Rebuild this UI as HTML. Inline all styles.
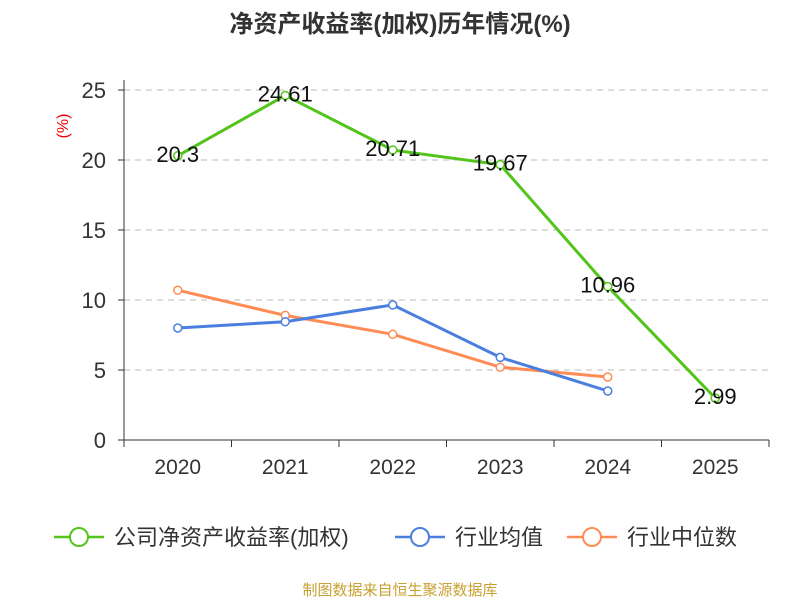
<!DOCTYPE html>
<html><head><meta charset="utf-8"><style>
body{margin:0;background:#fff;}
svg text{font-family:"Liberation Sans","Noto Sans CJK SC",sans-serif;}
</style></head><body>
<svg id="chart" width="800" height="600" xmlns="http://www.w3.org/2000/svg">
<text x="400" y="32" text-anchor="middle" font-size="24" font-weight="bold" fill="#333">净资产收益率(加权)历年情况(%)</text>
<text x="68" y="126" text-anchor="middle" font-size="16" fill="#e00" transform="rotate(-90 68 126)">(%)</text>
<g id="grid"></g><g id="axes"></g><g id="series"></g>
<g>
<g><line x1="54" y1="537" x2="104" y2="537" stroke="#52c41a" stroke-width="2.5"/><circle cx="79" cy="537" r="9" fill="#fff" stroke="#52c41a" stroke-width="2"/><text x="114" y="545" font-size="22" fill="#333">公司净资产收益率(加权)</text></g>
<g><line x1="395" y1="537" x2="445" y2="537" stroke="#4a7fe0" stroke-width="2.5"/><circle cx="420" cy="537" r="9" fill="#fff" stroke="#4a7fe0" stroke-width="2"/><text x="455" y="545" font-size="22" fill="#333">行业均值</text></g>
<g><line x1="567" y1="537" x2="617" y2="537" stroke="#ff8c55" stroke-width="2.5"/><circle cx="592" cy="537" r="9" fill="#fff" stroke="#ff8c55" stroke-width="2"/><text x="627" y="545" font-size="22" fill="#333">行业中位数</text></g>
</g>
<text x="400" y="595" text-anchor="middle" font-size="15" fill="#c8a032">制图数据来自恒生聚源数据库</text>
</svg>
<script>
const categories=["2020","2021","2022","2023","2024","2025"];
const companyValues=[20.3,24.61,20.71,19.67,10.96,2.99];
const industryAvg=[8.0,8.45,9.65,5.9,3.5];
const industryMedian=[10.7,8.9,7.55,5.2,4.5];
const yTicks=[0,5,10,15,20,25];
const NS="http://www.w3.org/2000/svg";
const x0=124,x1=769,yb=440,yt=90,ymax=25;
const bw=(x1-x0)/categories.length;
const X=i=>x0+bw*(i+0.5);
const Y=v=>yb-(v/ymax)*(yb-yt);
function mk(tag,attrs,parent,txt){const e=document.createElementNS(NS,tag);for(const k in attrs)e.setAttribute(k,attrs[k]);if(txt!==undefined)e.textContent=txt;document.getElementById(parent).appendChild(e);return e;}
yTicks.forEach(t=>{
 if(t>0){const g=mk('line',{x1:x0,x2:x1,y1:Y(t),y2:Y(t),stroke:'#bbb','stroke-dasharray':'6,5'},'grid');
 
 }
 const l=mk('text',{x:106,y:Y(t)+8,'text-anchor':'end','font-size':22,fill:'#333'},'axes',t);
 
 
 const tk=mk('line',{x1:x0-6,x2:x0,y1:Y(t),y2:Y(t),stroke:'#333'},'axes');
 
 
});
const ya=mk('line',{x1:x0,x2:x0,y1:yt-10,y2:yb,stroke:'#333'},'axes');


const xa=mk('line',{x1:x0,x2:x1,y1:yb,y2:yb,stroke:'#333'},'axes');


for(let i=0;i<=categories.length;i++){const t=mk('line',{x1:x0+bw*i,x2:x0+bw*i,y1:yb,y2:yb+7,stroke:'#333'},'axes');
 
 }
categories.forEach((c,i)=>{const l=mk('text',{x:X(i),y:yb+34,'text-anchor':'middle','font-size':21,fill:'#333'},'axes',c);
 
 });
function series(vals,color,name,labels){
 const p=mk('polyline',{points:vals.map((v,i)=>X(i)+','+Y(v)).join(' '),fill:'none',stroke:color,'stroke-width':3},'series');
 
 
 vals.forEach((v,i)=>{const c=mk('circle',{cx:X(i),cy:Y(v),r:4,fill:'#fff',stroke:color,'stroke-width':1.5},'series');
  
  
  if(labels){const t=mk('text',{x:X(i),y:Y(v)+6,'text-anchor':'middle','font-size':22,fill:'#111'},'series',v);
  
  }
 });
}
series(industryMedian,'#ff8c55','industry-median',false);
series(industryAvg,'#4a7fe0','industry-avg',false);
series(companyValues,'#52c41a','company-roe',true);
</script>
</body></html>
